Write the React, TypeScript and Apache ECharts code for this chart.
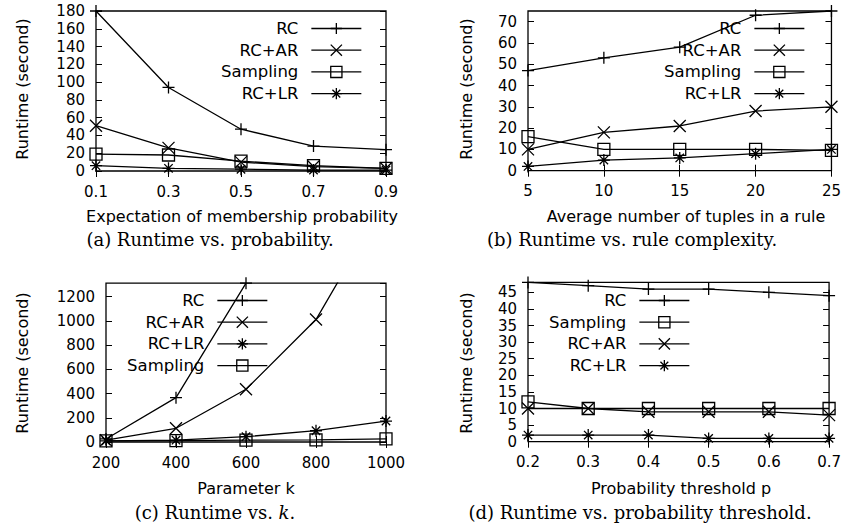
import React, { useEffect, useRef } from "react";
import * as echarts from "echarts";

// ---------- data ----------
// (a) Runtime vs. probability
const xA = [0.1, 0.3, 0.5, 0.7, 0.9];
const aRC = [180, 94, 47, 28, 24];
const aAR = [51, 26, 10, 5, 3];
const aSampling = [19, 18, 11, 6, 3];
const aLR = [6, 3, 2, 1, 1];

// (b) Runtime vs. rule complexity
const xB = [5, 10, 15, 20, 25];
const bRC = [47, 53, 58, 73, 75];
const bAR = [10, 18, 21, 28, 30];
const bSampling = [16, 10, 10, 10, 9.5];
const bLR = [2, 5, 6, 8, 10];

// (c) Runtime vs. k
const xC = [200, 400, 600, 800, 1000];
const cRC = [25, 366, 1310, null, null];
const cAR = [15, 113, 435, 1010, 2000];
const cLR = [10, 15, 44, 93, 173];
const cSampling = [10, 12, 15, 18, 25];

// (d) Runtime vs. probability threshold
const xD = [0.2, 0.3, 0.4, 0.5, 0.6, 0.7];
const dRC = [48, 47, 46, 46, 45, 44];
const dSampling = [12, 10, 10, 10, 10, 10];
const dAR = [10, 10, 9, 9, 9, 8];
const dLR = [2, 2, 2, 1, 1, 1];

const legendA = ["RC", "RC+AR", "Sampling", "RC+LR"];
const legendB = ["RC", "RC+AR", "Sampling", "RC+LR"];
const legendC = ["RC", "RC+AR", "RC+LR", "Sampling"];
const legendD = ["RC", "Sampling", "RC+AR", "RC+LR"];

const yTitle = "Runtime (second)";
const xTitles = [
  "Expectation of membership probability",
  "Average number of tuples in a rule",
  "Parameter k",
  "Probability threshold p",
];
const captions = [
  "(a) Runtime vs. probability.",
  "(b) Runtime vs. rule complexity.",
  "(c) Runtime vs. {i|k}.",
  "(d) Runtime vs. probability threshold.",
];

// ---------- styling ----------
const SANS = "DejaVu Sans";
const SERIF = "DejaVu Serif";
const SYMBOLS: Record<string, string> = {
  RC: "path://M5,0L5,10M0,5L10,5",
  "RC+AR": "path://M0,0L10,10M10,0L0,10",
  Sampling: "path://M0,0L10,0L10,10L0,10Z",
  "RC+LR": "path://M5,0L5,10M0,5L10,5M1.5,1.5L8.5,8.5M8.5,1.5L1.5,8.5",
};

function pairs(xs: number[], ys: (number | null)[]) {
  const out: number[][] = [];
  xs.forEach((x, i) => {
    const y = ys[i];
    if (y !== null && y !== undefined) out.push([x, y]);
  });
  return out;
}

function mkSeries(name: string, xs: number[], ys: (number | null)[], idx: number) {
  return {
    type: "line",
    name,
    xAxisIndex: idx * 2,
    yAxisIndex: idx * 2,
    data: pairs(xs, ys),
    symbol: SYMBOLS[name],
    symbolSize: 12,
    clip: true,
    lineStyle: { color: "#000", width: 1.3 },
    itemStyle: { color: "none", borderColor: "#000", borderWidth: 1.3 },
    emphasis: { disabled: true },
  };
}

const tickCfg = { show: true, inside: true, length: 6, lineStyle: { color: "#000", width: 1 } };

function xAxes(idx: number, min: number, max: number, interval: number, dec: number) {
  const base = {
    gridIndex: idx,
    type: "value",
    min,
    max,
    interval,
    axisLine: { show: false },
    axisTick: tickCfg,
    splitLine: { show: false },
  };
  return [
    {
      ...base,
      position: "bottom",
      axisLabel: {
        color: "#000",
        fontFamily: SANS,
        fontSize: 15,
        margin: 13,
        formatter: (v: number) => v.toFixed(dec),
      },
    },
    { ...base, position: "top", axisLabel: { show: false } },
  ];
}

function yAxes(idx: number, min: number, max: number, interval: number, showMax: boolean) {
  const base = {
    gridIndex: idx,
    type: "value",
    min,
    max,
    interval,
    axisLine: { show: false },
    axisTick: tickCfg,
    splitLine: { show: false },
  };
  return [
    {
      ...base,
      position: "left",
      axisLabel: {
        color: "#000",
        fontFamily: SANS,
        fontSize: 15,
        margin: 11,
        showMaxLabel: showMax,
        formatter: (v: number) => String(Math.round(v)),
      },
    },
    { ...base, position: "right", axisLabel: { show: false } },
  ];
}

function legendCfg(data: string[], right: number, top: number) {
  return {
    data,
    orient: "vertical",
    align: "right",
    right,
    top,
    padding: 0,
    itemWidth: 50,
    itemHeight: 14,
    itemGap: 4.7,
    selectedMode: false,
    textStyle: {
      fontFamily: SANS,
      fontSize: 16.5,
      color: "#000",
      lineHeight: 14,
      padding: [0, 8, 0, 0],
    },
    itemStyle: { color: "none", borderColor: "#000", borderWidth: 1.3 },
    lineStyle: { color: "#000", width: 1.3 },
  };
}

function txt(text: string, x: number, y: number, font: string, size: number, rot = 0) {
  return {
    type: "text",
    x,
    y,
    rotation: rot,
    style: {
      text,
      fontFamily: font,
      fontSize: size,
      fill: "#000",
      align: "center",
      verticalAlign: "middle",
      rich: { i: { fontFamily: font, fontSize: size, fontStyle: "italic", fill: "#000" } },
    },
  };
}

export default function App() {
  const ref = useRef<HTMLDivElement>(null);
  useEffect(() => {
    if (!ref.current) return;
    const chart = echarts.init(ref.current, undefined, { renderer: "svg" });
    const gridBase = { show: true, borderColor: "#000", borderWidth: 1.3, backgroundColor: "transparent" };
    const option: any = {
      animation: false,
      backgroundColor: "#fff",
      grid: [
        { ...gridBase, left: 96, top: 11, width: 290, height: 160 },
        { ...gridBase, left: 528, top: 11, width: 306, height: 159.7 },
        { ...gridBase, left: 106, top: 283.2, width: 280, height: 158.8 },
        { ...gridBase, left: 528, top: 282.4, width: 307, height: 159.3 },
      ],
      xAxis: [
        ...xAxes(0, 0.1, 0.9, 0.2, 1),
        ...xAxes(1, 5, 25, 5, 0),
        ...xAxes(2, 200, 1000, 200, 0),
        ...xAxes(3, 0.2, 0.7, 0.1, 1),
      ],
      yAxis: [
        ...yAxes(0, 0, 180, 20, true),
        ...yAxes(1, 0, 75, 10, false),
        ...yAxes(2, 0, 1310, 200, false),
        ...yAxes(3, 0, 48, 5, false),
      ],
      legend: [
        legendCfg(legendA, 482, 20),
        legendCfg(legendB, 39, 20),
        legendCfg(legendC, 576, 292),
        legendCfg(legendD, 154, 292),
      ],
      series: [
        mkSeries("RC", xA, aRC, 0),
        mkSeries("RC+AR", xA, aAR, 0),
        mkSeries("Sampling", xA, aSampling, 0),
        mkSeries("RC+LR", xA, aLR, 0),
        mkSeries("RC", xB, bRC, 1),
        mkSeries("RC+AR", xB, bAR, 1),
        mkSeries("Sampling", xB, bSampling, 1),
        mkSeries("RC+LR", xB, bLR, 1),
        mkSeries("RC", xC, cRC, 2),
        mkSeries("RC+AR", xC, cAR, 2),
        mkSeries("RC+LR", xC, cLR, 2),
        mkSeries("Sampling", xC, cSampling, 2),
        mkSeries("RC", xD, dRC, 3),
        mkSeries("Sampling", xD, dSampling, 3),
        mkSeries("RC+AR", xD, dAR, 3),
        mkSeries("RC+LR", xD, dLR, 3),
      ],
      graphic: [
        txt(yTitle, 22, 89, SANS, 16, Math.PI / 2),
        txt(yTitle, 466, 89, SANS, 16, Math.PI / 2),
        txt(yTitle, 22, 363, SANS, 16, Math.PI / 2),
        txt(yTitle, 466, 363, SANS, 16, Math.PI / 2),
        txt(xTitles[0], 242, 216, SANS, 16),
        txt(xTitles[1], 686, 216, SANS, 16),
        txt(xTitles[2], 246, 488, SANS, 16),
        txt(xTitles[3], 681, 488, SANS, 16),
        txt(captions[0], 210, 239, SERIF, 18),
        txt(captions[1], 632, 239, SERIF, 18),
        txt(captions[2], 215, 512, SERIF, 18),
        txt(captions[3], 640, 512, SERIF, 18),
      ],
    };
    chart.setOption(option);
    return () => chart.dispose();
  }, []);
  return (
    <div
      ref={ref}
      style={{ position: "fixed", left: 0, top: 0, width: 844, height: 531 }}
    />
  );
}
